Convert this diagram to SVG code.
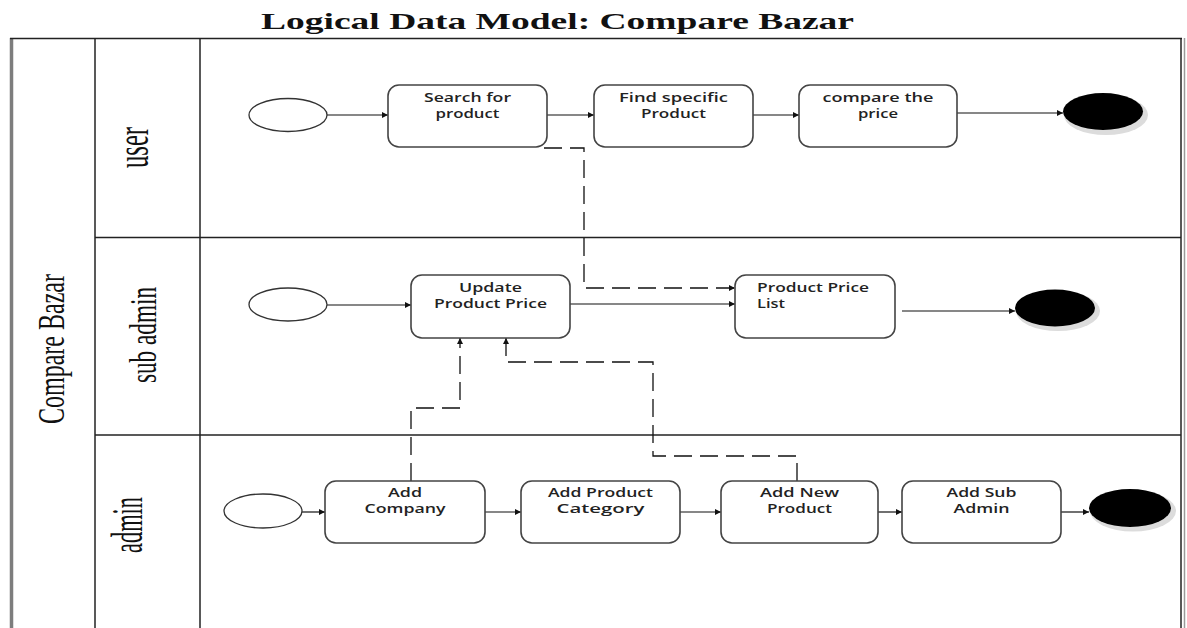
<svg xmlns="http://www.w3.org/2000/svg" width="1187" height="628" viewBox="0 0 1187 628">
<defs>
<style>
.title{font-family:"Liberation Serif","Times New Roman",serif;font-weight:bold;font-size:23px;fill:#111}
.lane{font-family:"Liberation Serif","Times New Roman",serif;fill:#111}
.lbl{font-family:"Open Sans","DejaVu Sans",sans-serif;font-weight:600;font-size:12px;fill:#222}
.box{fill:#fff;stroke:#444;stroke-width:1.6}
.start{fill:#fff;stroke:#333;stroke-width:1.3}
.endc{fill:#000}
.ends{fill:#dcdcdc}
.grid{stroke:#222;stroke-width:1.5;fill:none}
.flow{stroke:#111;stroke-width:1.2;fill:none}
.dash{stroke:#111;stroke-width:1.3;fill:none;stroke-dasharray:18 8}
</style>
<marker id="arr" viewBox="0 0 10 10" refX="10" refY="5" markerWidth="9" markerHeight="6" markerUnits="userSpaceOnUse" orient="auto">
<path d="M0,0 L10,5 L0,10 z" fill="#111"/>
</marker>
</defs>
<rect width="1187" height="628" fill="#fff"/>
<text class="title" x="261" y="29" textLength="593" lengthAdjust="spacingAndGlyphs">Logical Data Model: Compare Bazar</text>

<g id="pool">
<line x1="11.5" y1="38" x2="11.5" y2="628" stroke="#7d7d7d" stroke-width="3.5"/>
<line x1="10" y1="38.5" x2="1182" y2="38.5" class="grid"/>
<line x1="1181" y1="38" x2="1181" y2="628" class="grid"/>
<line x1="1184.5" y1="38" x2="1184.5" y2="628" stroke="#9a9a9a" stroke-width="1.5"/>
<line x1="95" y1="38" x2="95" y2="628" class="grid"/>
<line x1="200" y1="38" x2="200" y2="628" class="grid"/>
<line x1="95" y1="237.5" x2="1181" y2="237.5" class="grid"/>
<line x1="95" y1="435" x2="1181" y2="435" class="grid"/>
<text class="lane" transform="translate(64,424) rotate(-90)" font-size="38" textLength="150" lengthAdjust="spacingAndGlyphs">Compare Bazar</text>
</g>

<g id="lane-user">
<text class="lane" transform="translate(148,168) rotate(-90)" font-size="47" textLength="41" lengthAdjust="spacingAndGlyphs">user</text>
</g>
<g id="lane-subadmin">
<text class="lane" transform="translate(156,383) rotate(-90)" font-size="38" textLength="96" lengthAdjust="spacingAndGlyphs">sub admin</text>
</g>
<g id="lane-admin">
<text class="lane" transform="translate(142,553) rotate(-90)" font-size="44" textLength="56" lengthAdjust="spacingAndGlyphs">admin</text>
</g>

<g id="connectors">
<line class="flow" x1="327" y1="115" x2="388" y2="115" marker-end="url(#arr)"/>
<line class="flow" x1="547" y1="115" x2="594" y2="115" marker-end="url(#arr)"/>
<line class="flow" x1="753" y1="115" x2="799" y2="115" marker-end="url(#arr)"/>
<line class="flow" x1="957" y1="113" x2="1063" y2="113" marker-end="url(#arr)"/>
<line class="flow" x1="327" y1="305" x2="411" y2="305" marker-end="url(#arr)"/>
<line class="flow" x1="570" y1="304" x2="735" y2="304" marker-end="url(#arr)"/>
<line class="flow" x1="902" y1="311" x2="1015" y2="311" marker-end="url(#arr)"/>
<line class="flow" x1="302" y1="512" x2="325" y2="512" marker-end="url(#arr)"/>
<line class="flow" x1="485" y1="512" x2="521" y2="512" marker-end="url(#arr)"/>
<line class="flow" x1="680" y1="512" x2="721" y2="512" marker-end="url(#arr)"/>
<line class="flow" x1="878" y1="512" x2="902" y2="512" marker-end="url(#arr)"/>
<line class="flow" x1="1061" y1="512" x2="1089" y2="512" marker-end="url(#arr)"/>
<path class="dash" d="M544 148 H584 V288 H735" marker-end="url(#arr)"/>
<path class="dash" d="M411 481 V408 H460 V338" marker-end="url(#arr)"/>
<path class="dash" d="M797 481 V456 H653 V362 H506 V338" marker-end="url(#arr)"/>
</g>

<g id="user-start"><ellipse class="start" cx="288" cy="115" rx="39" ry="16.5"/></g>
<g id="search-product">
<rect class="box" x="388" y="85" width="159" height="62" rx="11"/>
<text class="lbl" x="467.5" y="102" text-anchor="middle" textLength="87" lengthAdjust="spacingAndGlyphs">Search for</text>
<text class="lbl" x="467.5" y="118" text-anchor="middle" textLength="64" lengthAdjust="spacingAndGlyphs">product</text>
</g>
<g id="find-product">
<rect class="box" x="594" y="85" width="159" height="62" rx="11"/>
<text class="lbl" x="673.5" y="102" text-anchor="middle" textLength="109" lengthAdjust="spacingAndGlyphs">Find specific</text>
<text class="lbl" x="673.5" y="118" text-anchor="middle" textLength="65" lengthAdjust="spacingAndGlyphs">Product</text>
</g>
<g id="compare-price">
<rect class="box" x="799" y="85" width="158" height="62" rx="11"/>
<text class="lbl" x="878" y="102" text-anchor="middle" textLength="111" lengthAdjust="spacingAndGlyphs">compare the</text>
<text class="lbl" x="878" y="118" text-anchor="middle" textLength="40" lengthAdjust="spacingAndGlyphs">price</text>
</g>
<g id="user-end">
<ellipse class="ends" cx="1106" cy="115" rx="42" ry="20"/>
<ellipse class="endc" cx="1103" cy="111.5" rx="40" ry="18.5"/>
</g>

<g id="subadmin-start"><ellipse class="start" cx="288" cy="304.5" rx="39" ry="16.5"/></g>
<g id="update-price">
<rect class="box" x="411" y="275" width="159" height="63" rx="11"/>
<text class="lbl" x="490.5" y="292" text-anchor="middle" textLength="63" lengthAdjust="spacingAndGlyphs">Update</text>
<text class="lbl" x="490.5" y="308" text-anchor="middle" textLength="113" lengthAdjust="spacingAndGlyphs">Product Price</text>
</g>
<g id="price-list">
<rect class="box" x="735" y="275" width="160" height="63" rx="11"/>
<text class="lbl" x="757" y="292" textLength="112" lengthAdjust="spacingAndGlyphs">Product Price</text>
<text class="lbl" x="757" y="308" textLength="28" lengthAdjust="spacingAndGlyphs">List</text>
</g>
<g id="subadmin-end">
<ellipse class="ends" cx="1058" cy="311" rx="42" ry="20"/>
<ellipse class="endc" cx="1055" cy="308" rx="40" ry="18.5"/>
</g>

<g id="admin-start"><ellipse class="start" cx="263" cy="511" rx="39" ry="17"/></g>
<g id="add-company">
<rect class="box" x="325" y="481" width="160" height="62" rx="11"/>
<text class="lbl" x="405" y="497" text-anchor="middle" textLength="34" lengthAdjust="spacingAndGlyphs">Add</text>
<text class="lbl" x="405" y="513" text-anchor="middle" textLength="81" lengthAdjust="spacingAndGlyphs">Company</text>
</g>
<g id="add-category">
<rect class="box" x="521" y="481" width="159" height="62" rx="11"/>
<text class="lbl" x="600.5" y="497" text-anchor="middle" textLength="105" lengthAdjust="spacingAndGlyphs">Add Product</text>
<text class="lbl" x="600.5" y="513" text-anchor="middle" textLength="88" lengthAdjust="spacingAndGlyphs">Category</text>
</g>
<g id="add-product">
<rect class="box" x="721" y="481" width="157" height="62" rx="11"/>
<text class="lbl" x="799.5" y="497" text-anchor="middle" textLength="79" lengthAdjust="spacingAndGlyphs">Add New</text>
<text class="lbl" x="799.5" y="513" text-anchor="middle" textLength="65" lengthAdjust="spacingAndGlyphs">Product</text>
</g>
<g id="add-subadmin">
<rect class="box" x="902" y="481" width="159" height="62" rx="11"/>
<text class="lbl" x="981.5" y="497" text-anchor="middle" textLength="70" lengthAdjust="spacingAndGlyphs">Add Sub</text>
<text class="lbl" x="981.5" y="513" text-anchor="middle" textLength="56" lengthAdjust="spacingAndGlyphs">Admin</text>
</g>
<g id="admin-end">
<ellipse class="ends" cx="1133" cy="511" rx="43" ry="20.5"/>
<ellipse class="endc" cx="1130" cy="508" rx="41" ry="19"/>
</g>
</svg>
